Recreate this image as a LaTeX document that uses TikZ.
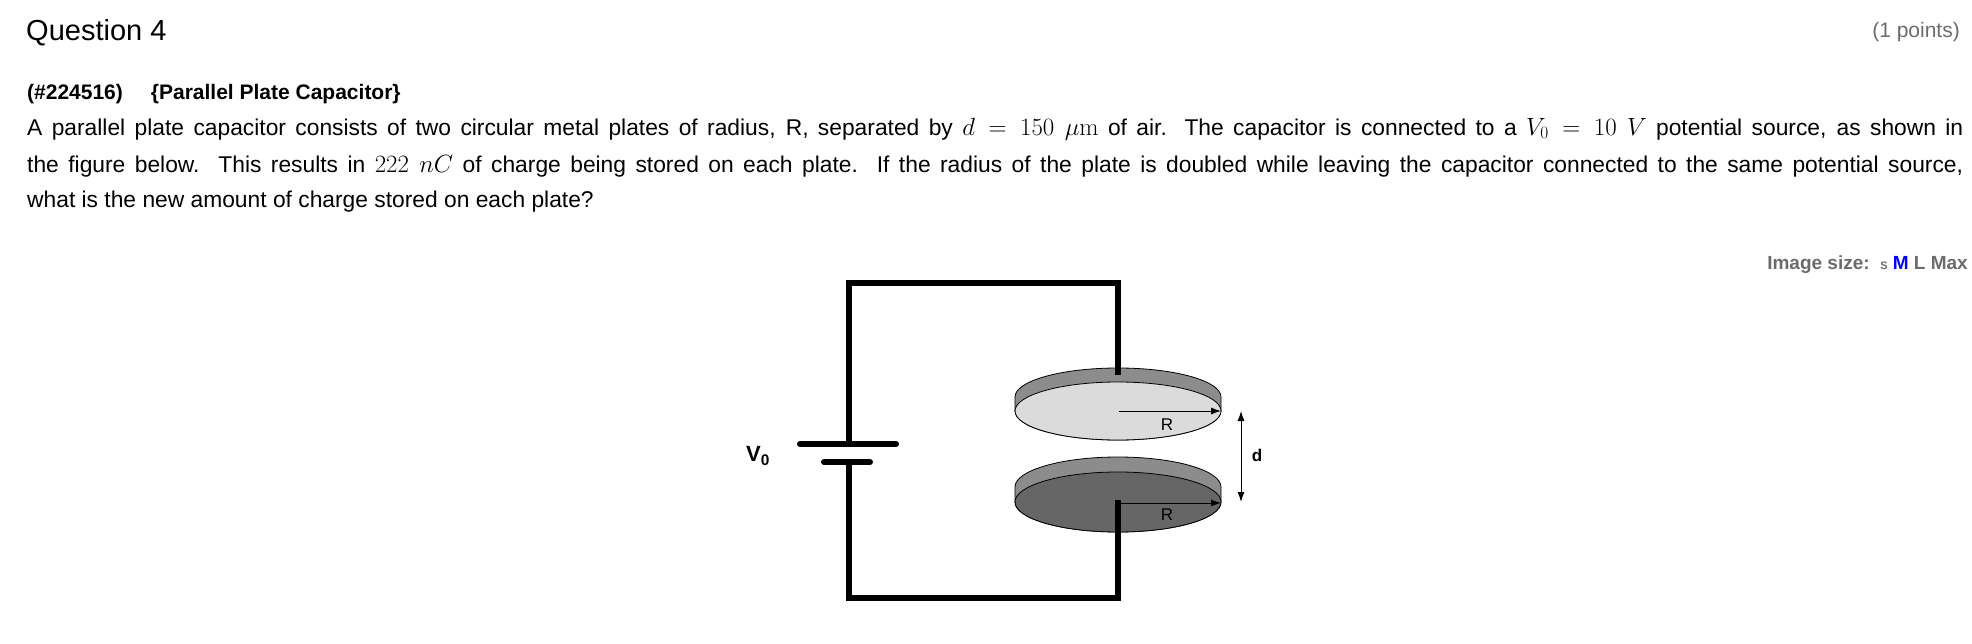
\documentclass[tikz,border=0pt]{standalone}
\usepackage[no-math]{fontspec}
\setmainfont{Liberation Sans}
\usetikzlibrary{arrows.meta}
\definecolor{rim}{gray}{0.55}
\definecolor{lightface}{gray}{0.86}
\definecolor{darkface}{gray}{0.40}
\definecolor{txtgray}{gray}{0.42}
\newcommand{\mymath}[1]{{\fontsize{25}{26}\selectfont$#1$}}
\tikzset{wire/.style={line width=6pt},
  plate/.style={draw=black,line width=0.8pt},
  dim/.style={line width=1pt,-{Latex[length=10pt,width=7pt]}},
  body/.style={anchor=west,inner sep=0pt,font=\fontsize{22.8}{26}\selectfont}}
\begin{document}
\begin{tikzpicture}[x=1pt,y=-1pt]
\useasboundingbox (0,0) rectangle (1972,644);
\node[anchor=west,inner sep=0pt,font=\fontsize{29}{34}\selectfont] (q) at (26,33) {Question 4};
\node[anchor=east,inner sep=0pt,text=txtgray,font=\fontsize{21}{25}\selectfont] (pts) at (1960,32) {(1 points)};
\node[anchor=west,inner sep=0pt,font=\fontsize{21}{25}\selectfont\bfseries] (h) at (27,94) {(\#224516)\hspace{28pt}\{Parallel Plate Capacitor\}};
\node[body] (l1) at (27,129) {\hbox to 1936pt{A parallel plate capacitor consists of two circular metal plates of radius, R, separated by \mymath{d=150\ \mu\mathrm{m}} of air. The capacitor is connected to a \mymath{V_0=10\ V} potential source, as shown in}};
\node[body] (l2) at (27,166) {\hbox to 1936pt{the figure below.\ \ This results in \mymath{222\ nC} of charge being stored on each plate.\ \ If the radius of the plate is doubled while leaving the capacitor connected to the same potential source,}};
\node[body] (l3) at (27,202) {what is the new amount of charge stored on each plate?};
\node[anchor=east,inner sep=0pt,text=txtgray,font=\fontsize{19}{22}\selectfont\bfseries] (img) at (1968,265) {Image size:\ \ {\fontsize{11}{13}\selectfont S} \textcolor{blue}{M} L Max};
% circuit
\coordinate (tl) at (849,283);
\coordinate (tr) at (1118,283);
\coordinate (bl) at (849,598);
\coordinate (br) at (1118,598);
\draw[wire] (849,444) -- (tl) -- (tr) -- (1118,375);
\draw[wire] (849,462) -- (bl) -- (br) -- (1118,503);
\draw[wire,line cap=round] (800,444) -- (896,444);
\draw[wire,line cap=round] (824,462) -- (870,462);
\node[font=\fontsize{22}{26}\selectfont\bfseries] (v0) at (758,456) {V\textsubscript{0}};
% top plate
\fill[rim,plate] (1015,397) -- (1015,411) arc[start angle=180,end angle=0,x radius=103,y radius=29] -- (1221,397) arc[start angle=0,end angle=-180,x radius=103,y radius=29] -- cycle;
\draw[plate,fill=lightface] (1118,411) ellipse[x radius=103,y radius=29];
\draw[wire] (1118,375) -- (1118,368);
% bottom plate
\fill[rim,plate] (1015,487) -- (1015,502) arc[start angle=180,end angle=0,x radius=103,y radius=30] -- (1221,487) arc[start angle=0,end angle=-180,x radius=103,y radius=30] -- cycle;
\draw[plate,fill=darkface] (1118,502) ellipse[x radius=103,y radius=30];
\draw[line width=6pt] (1118,598) -- (1118,500);
\coordinate (a1) at (1119,411); \coordinate (a1e) at (1221,411);
\coordinate (a2) at (1119,503); \coordinate (a2e) at (1221,503);
\draw[dim] (a1) -- (a1e);
\draw[dim] (a2) -- (a2e);
\node[font=\fontsize{17}{20}\selectfont] (r1) at (1167,425) {R};
\node[font=\fontsize{17}{20}\selectfont] (r2) at (1167,515) {R};
\coordinate (d1) at (1241,411); \coordinate (d2) at (1241,502);
\draw[dim,{Latex[length=10pt,width=7pt]}-{Latex[length=10pt,width=7pt]}] (d1) -- (d2);
\node[font=\fontsize{17}{20}\selectfont\bfseries] (dl) at (1257,455) {d};
\end{tikzpicture}
\end{document}
